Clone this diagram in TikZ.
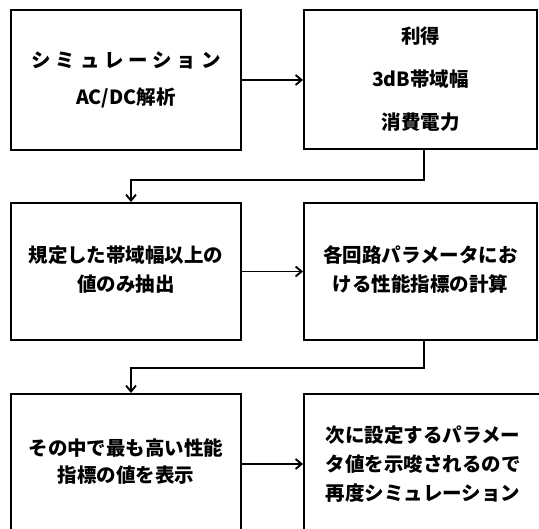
\documentclass[tikz,border=0pt]{standalone}
\usepackage{fontspec}
\setmainfont{Noto Sans CJK JP}
\usetikzlibrary{arrows.meta}
\tikzset{
  box/.style={draw=black, line width=1.9pt, minimum width=230pt, minimum height=138pt, inner sep=0pt, align=center, font=\bfseries\fontsize{19.5}{29}\selectfont},
  arr/.style={line width=1.9pt, -{Straight Barb[length=6pt,width=10pt,line width=1.9pt]}},
  ln/.style={line width=1.9pt}
}
\newcommand{\lowered}[1]{\raisebox{-4pt}{\begin{tabular}{@{}c@{}}#1\end{tabular}}}
\begin{document}
\begin{tikzpicture}[x=1pt,y=-1pt]
\useasboundingbox[fill=white] (0,0) rectangle (539,529);
\node[box, minimum width=230pt, minimum height=140pt, font=\bfseries\fontsize{19.5}{37}\selectfont] (A) at (126,80)
  {{\addfontfeature{LetterSpace=25}シミュレーション}\\AC/DC解析};
\node[box, minimum width=233pt, minimum height=139pt, font=\bfseries\fontsize{19.5}{43}\selectfont] (B) at (420.5,79.5)
  {利得\\3dB帯域幅\\消費電力};
\node[box, minimum height=137pt] (C) at (126,271.5)
  {\lowered{規定した帯域幅以上の\\値のみ抽出}};
\node[box, minimum width=233pt, minimum height=137pt] (D) at (420.5,271.5)
  {\lowered{各回路パラメータにお\\ける性能指標の計算}};
\node[box, minimum height=140pt, font=\bfseries\fontsize{19.5}{27}\selectfont] (E) at (126,464)
  {\raisebox{-2pt}{\begin{tabular}{@{}c@{}}その中で最も高い性能\\指標の値を表示\end{tabular}}};
\node[box, minimum width=238pt, minimum height=140pt] (F) at (423,464)
  {次に設定するパラメー\\タ値を示唆されるので\\再度シミュレーション};
\coordinate (b1) at (424,180);
\coordinate (b2) at (131,180);
\coordinate (d1) at (424,368);
\coordinate (d2) at (131,368);
\draw[arr] (A.east) -- (A.east -| B.west);
\draw[arr] (C.east) -- (C.east -| D.west);
\draw[arr] (E.east) -- (E.east -| F.west);
\draw[arr] (B.south -| b1) -- (b1) -- (b2) -- (b2 |- C.north);
\draw[arr] (D.south -| d1) -- (d1) -- (d2) -- (d2 |- E.north);
\end{tikzpicture}
\end{document}
